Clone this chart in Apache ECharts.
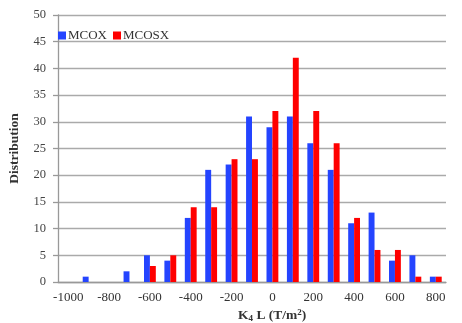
<!DOCTYPE html>
<html>
<head>
<meta charset="utf-8">
<script src="https://cdn.jsdelivr.net/npm/echarts@6/dist/echarts.min.js"></script>
<style>html,body{margin:0;padding:0;background:#fff}#c{width:462px;height:323px}</style>
</head>
<body>
<div id="c"></div>
<script>
const categories = ['-1000','-900','-800','-700','-600','-500','-400','-300','-200','-100','0','100','200','300','400','500','600','700','800'];
const mcox  = [0,1,0,2,5,4,12,21,22,31,29,31,26,21,11,13,4,5,1];
const mcosx = [0,0,0,0,3,5,14,14,23,23,32,42,32,26,12,6,6,1,1];
const yTicks = {min:0, max:50, interval:5};

const font = '"Liberation Serif","Times New Roman",serif';
const chart = echarts.init(document.getElementById('c'), null, {renderer:'canvas'});
chart.setOption({
  animation:false,
  backgroundColor:'#fff',
  grid:{left:49, right:16, top:15, bottom:41},
  legend:{
    left:53, top:24, itemWidth:8, itemHeight:8, itemGap:6,
    icon:'rect',
    textStyle:{fontFamily:font, fontSize:13, color:'#333', padding:[0,0,0,-3]},
    data:['MCOX','MCOSX']
  },
  title:{
    text:'{b|K}{s|4}{b| L (T/m}{p|2}{b|)}',
    left:233, top:303,
    textStyle:{
      rich:{
        b:{fontFamily:font, fontSize:13.5, fontWeight:'bold', color:'#333'},
        s:{fontFamily:font, fontSize:9, fontWeight:'bold', color:'#333', padding:[6,0,0,0]},
        p:{fontFamily:font, fontSize:9, fontWeight:'bold', color:'#333', padding:[0,0,6,0]}
      }
    }
  },
  xAxis:{
    type:'category', data:categories, boundaryGap:true,
    axisLine:{lineStyle:{color:'#999', width:1.3}},
    axisTick:{interval:1, length:5, lineStyle:{color:'#888', width:1.3}},
    axisLabel:{interval:1, margin:9, fontFamily:font, fontSize:13, color:'#333'}
  },
  yAxis:{
    type:'value', min:yTicks.min, max:yTicks.max, interval:yTicks.interval,
    name:'Distribution', nameLocation:'middle', nameGap:36,
    nameTextStyle:{fontFamily:font, fontSize:13.5, fontWeight:'bold', color:'#333'},
    axisLine:{show:true, lineStyle:{color:'#999', width:1.3}},
    axisTick:{show:true, inside:false, length:5, lineStyle:{color:'#999', width:1.3}},
    axisLabel:{margin:12, fontFamily:font, fontSize:12.5, color:'#444'},
    splitLine:{lineStyle:{color:'#aaa', width:1.3}}
  },
  series:[
    {name:'MCOX', type:'bar', data:mcox, itemStyle:{color:'#2444ff'}, barGap:'0%', barCategoryGap:'42%'},
    {name:'MCOSX', type:'bar', data:mcosx, itemStyle:{color:'#ff0000'}, barGap:'0%', barCategoryGap:'42%'}
  ]
});
</script>
</body>
</html>
